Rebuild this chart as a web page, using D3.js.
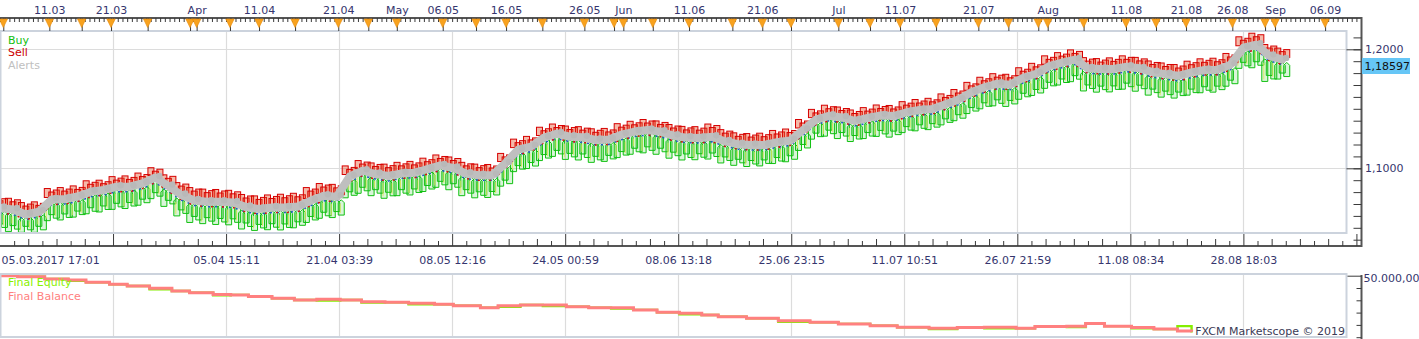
<!DOCTYPE html>
<html><head><meta charset="utf-8">
<script src="https://cdn.jsdelivr.net/npm/d3@7"></script>
<style>
html,body{margin:0;padding:0;background:#fff;overflow:hidden;}
svg{display:block;font-family:"DejaVu Sans",Verdana,sans-serif;font-size:11px;}
</style></head><body>
<svg id="chart" width="1419" height="339"></svg>
<script>
// ---------------- DATA ----------------
const barStep = 11; // bars between consecutive sampled points
const alertPrice = [1.0666,1.0654,1.0612,1.0635,1.0738,1.0742,1.0763,1.0803,1.0818,1.0845,
 1.0845,1.0873,1.0923,1.0851,1.0776,1.0730,1.0719,1.0719,1.0713,1.0675,
 1.0658,1.0671,1.0670,1.0679,1.0729,1.0769,1.0761,1.0931,1.0980,1.0952,
 1.0935,1.0958,1.0963,1.0994,1.1025,1.1003,1.0955,1.0941,1.0942,1.1040,
 1.1157,1.1183,1.1259,1.1292,1.1266,1.1261,1.1238,1.1243,1.1283,1.1309,
 1.1322,1.1307,1.1274,1.1258,1.1255,1.1265,1.1226,1.1203,1.1196,1.1196,
 1.1219,1.1233,1.1322,1.1409,1.1441,1.1427,1.1398,1.1423,1.1445,1.1439,
 1.1471,1.1490,1.1499,1.1539,1.1577,1.1639,1.1681,1.1711,1.1703,1.1761,
 1.1795,1.1858,1.1888,1.1914,1.1840,1.1835,1.1835,1.1854,1.1840,1.1808,
 1.1791,1.1777,1.1806,1.1826,1.1829,1.1871,1.2013,1.2039,1.1945,1.1915];
const sellPrice = [1.0757,1.0748,1.0712,1.0718,1.0830,1.0838,1.0852,1.0895,1.0900,1.0930,
 1.0936,1.0960,1.1005,1.0945,1.0880,1.0838,1.0825,1.0822,1.0815,1.0780,
 1.0768,1.0776,1.0782,1.0790,1.0838,1.0872,1.0865,1.1020,1.1065,1.1045,
 1.1035,1.1050,1.1058,1.1085,1.1112,1.1095,1.1050,1.1035,1.1032,1.1125,
 1.1245,1.1268,1.1345,1.1372,1.1355,1.1350,1.1332,1.1335,1.1375,1.1395,
 1.1410,1.1398,1.1368,1.1352,1.1350,1.1372,1.1325,1.1298,1.1292,1.1295,
 1.1318,1.1330,1.1410,1.1495,1.1530,1.1515,1.1490,1.1510,1.1532,1.1528,
 1.1560,1.1578,1.1588,1.1625,1.1662,1.1722,1.1765,1.1795,1.1790,1.1845,
 1.1882,1.1945,1.1972,1.1995,1.1930,1.1922,1.1928,1.1945,1.1932,1.1902,
 1.1885,1.1872,1.1900,1.1920,1.1925,1.1965,1.2105,1.2135,1.2040,1.2010];
const buyPrice = [1.0482,1.0468,1.0462,1.0462,1.0560,1.0566,1.0590,1.0618,1.0633,1.0655,
 1.0662,1.0690,1.0745,1.0680,1.0600,1.0545,1.0535,1.0528,1.0525,1.0490,
 1.0478,1.0484,1.0482,1.0500,1.0545,1.0580,1.0586,1.0752,1.0790,1.0770,
 1.0748,1.0770,1.0776,1.0805,1.0840,1.0820,1.0770,1.0752,1.0755,1.0850,
 1.0972,1.0998,1.1065,1.1100,1.1075,1.1070,1.1050,1.1058,1.1090,1.1118,
 1.1130,1.1118,1.1085,1.1070,1.1072,1.1078,1.1045,1.1025,1.1015,1.1020,
 1.1040,1.1055,1.1150,1.1245,1.1270,1.1250,1.1225,1.1250,1.1268,1.1262,
 1.1300,1.1315,1.1325,1.1365,1.1400,1.1460,1.1500,1.1525,1.1520,1.1580,
 1.1612,1.1672,1.1700,1.1728,1.1650,1.1640,1.1642,1.1665,1.1648,1.1615,
 1.1598,1.1590,1.1615,1.1635,1.1640,1.1690,1.1840,1.1845,1.1730,1.1750];
const lastPrice = 1.18597;
const priceTicks = [1.1, 1.2];

const balanceBars = [0,15,38,58,73,93,108,127,146,161,181,196,211,231,250,269,289,307,327,347,
 369,385,408,423,442,461,481,500,519,538,558,577,596,610,634,661,688,712,739,762,
 789,813,836,863,879,906,922,938,961,980,1000,1012];
const balanceValues = [50000,49960,49870,49830,49730,49650,49580,49490,49380,49310,
 49240,49220,49150,49080,49010,49040,49010,48940,48920,48880,
 48840,48780,48700,48780,48810,48810,48740,48700,48700,48610,
 48510,48470,48400,48330,48270,48170,48110,48040,47970,47900,
 47860,47890,47900,47860,47940,47950,48060,47950,47890,47830,
 47750,47720];
const equityValues = [50000,49960,49870,49790,49730,49650,49580,49450,49380,49310,
 49200,49220,49150,49080,49010,48990,49010,48910,48920,48840,
 48840,48780,48700,48740,48810,48770,48740,48700,48660,48610,
 48510,48430,48400,48330,48270,48130,48110,48040,47970,47900,
 47830,47890,47860,47860,47940,47910,48060,47950,47860,47830,
 47950,47690];
const equityTicks = [47500,48000,48500,49000,49500,50000];

const topMarkerBars = [2.8,41.9,69.4,94.3,125.4,161.4,167,195.3,220,250.6,287.3,312.8,337,376,404.3,
 429.8,460.6,496.3,521.5,529.4,554.4,585.2,622,647.4,671.8,712,738.9,764.4,795,830.9,856.4,
 881.8,889.8,920.3,956.3,981.8,1007.3,1046.6,1074.4,1082.9,1125.4];
const topLabelBars = [41.9,94.3,167,220,287.3,337,376,429.8,496.3,529.4,585.2,647.4,712,764.4,
 830.9,889.8,956.3,1007.3,1046.6,1082.9,1125.4];
const topLabels = ["11.03","21.03","Apr","11.04","21.04","May","06.05","16.05","26.05","Jun",
 "11.06","21.06","Jul","11.07","21.07","Aug","11.08","21.08","26.08","Sep","06.09"];
const bottomLabelBars = [0,192,288,384,480,576,672,768,864,960,1056];
const bottomLabels = ["05.03.2017 17:01","05.04 15:11","21.04 03:39","08.05 12:16","24.05 00:59",
 "08.06 13:18","25.06 23:15","11.07 10:51","26.07 21:59","11.08 08:34","28.08 18:03"];
const legendMain = [{t:"Buy",c:"#11c011"},{t:"Sell",c:"#cc0000"},{t:"Alerts",c:"#c0c0c0"}];
const legendLow = [{t:"Final Equity",c:"#88f000"},{t:"Final Balance",c:"#ff8080"}];

// ---------------- LAYOUT ----------------
const svg = d3.select('#chart');
const P = {left:0, right:1347, top:31, bottom:233};
const L = {top:274, bottom:337};
const axX = 1361.5;
const topAxisY = 18, botAxisY = 246;
const txtColor = "#35356e";
const FONT = '"DejaVu Sans", Verdana, sans-serif';

const x = d3.scaleLinear().domain([0,1144]).range([0,1347]);
const yP = d3.scaleLinear().domain([1.1,1.2]).range([168.3,49.3]);
const yE = d3.scaleLinear().domain([47500,50000]).range([337.2,275.7]);

svg.append('rect').attr('width',1419).attr('height',339).attr('fill','#fff');

function styleAxis(g){
  g.attr('font-family',FONT).attr('font-size',11);
  g.select('.domain').remove();
  g.selectAll('.tick line').attr('stroke','#3a3a3a');
  g.selectAll('text').attr('fill',txtColor);
}
const px = v => Math.round(x(v)) + 0.5;
const gridBars = d3.range(96, 1144, 96);

// ---------- main panel grid ----------
const gMain = svg.append('g');
gMain.selectAll('line.vg').data(gridBars).join('line')
  .attr('x1',px).attr('x2',px).attr('y1',P.top).attr('y2',P.bottom)
  .attr('stroke','#dcdcdc').attr('stroke-width',1.2);
gMain.selectAll('line.hg').data(priceTicks).join('line')
  .attr('x1',P.left).attr('x2',P.right)
  .attr('y1',d=>Math.round(yP(d))+0.5).attr('y2',d=>Math.round(yP(d))+0.5)
  .attr('stroke','#dcdcdc').attr('stroke-width',1.2);

// clip
svg.append('clipPath').attr('id','clipMain').append('rect')
  .attr('x',P.left).attr('y',P.top+1).attr('width',P.right-P.left-1).attr('height',P.bottom-P.top-2);
svg.append('clipPath').attr('id','clipLow').append('rect')
  .attr('x',0).attr('y',L.top+1).attr('width',P.right-1).attr('height',L.bottom-L.top-2);

const pts = alertPrice.map((a,i)=>({bar:i*barStep, a, s:sellPrice[i], b:buyPrice[i]}));
// marker style variants drawn around each sampled point (pure styling offsets in px)
const variants = [{dx:-4.5, ds:0, db:0},{dx:0, ds:3.5, db:-6},{dx:4.5, ds:1.5, db:-2.5}];
const marks = [];
pts.forEach(p=>variants.forEach(v=>marks.push({...p, ...v})));

const gData = svg.append('g').attr('clip-path','url(#clipMain)');
// buy markers (up arrows)
const bw = 6;
gData.selectAll('path.buy').data(marks).join('path')
  .attr('d',d=>{
    const cx = x(d.bar)+d.dx, top = yP(d.a)+3, bot = yP(d.b)+d.db;
    return `M${cx-bw/2},${bot}L${cx+bw/2},${bot}L${cx+bw/2},${top+3}L${cx},${top}L${cx-bw/2},${top+3}Z`;
  })
  .attr('fill','rgba(25,190,25,0.16)').attr('stroke','#12c012').attr('stroke-width',1);
gData.selectAll('path.buyin').data(marks.filter((d,i)=>i%2===0)).join('path')
  .attr('d',d=>{
    const cx = x(d.bar)+d.dx, top = yP(d.a)+7, bot = yP(d.b)+d.db-2;
    return `M${cx-1},${bot}L${cx-1},${top}`;
  })
  .attr('fill','none').attr('stroke','#dde65a').attr('stroke-width',0.9);
// sell markers (boxes above)
gData.selectAll('rect.sell').data(marks).join('rect')
  .attr('x',d=>x(d.bar)+d.dx-bw/2)
  .attr('y',d=>yP(d.s)+d.ds)
  .attr('width',bw)
  .attr('height',d=>Math.max(3,(yP(d.a)-2)-(yP(d.s)+d.ds)))
  .attr('fill','rgba(228,70,30,0.38)').attr('stroke','#d60000').attr('stroke-width',1);
// small blue / red dots
const offLine = d3.line().x(d=>x(d.bar)).y(d=>yP(d.a)+5);
gData.append('path').datum(pts).attr('d',offLine).attr('fill','none')
  .attr('stroke','#2456c8').attr('stroke-width',1.6).attr('stroke-dasharray','2 5');
gData.append('path').datum(pts).attr('d',offLine).attr('fill','none')
  .attr('stroke','#d81010').attr('stroke-width',1.6).attr('stroke-dasharray','2 9').attr('stroke-dashoffset',4);
// alerts (gray)
const aLine = d3.line().x(d=>x(d.bar)).y(d=>yP(d.a));
gData.append('path').datum(pts).attr('d',aLine).attr('fill','none')
  .attr('stroke','#bfbfbf').attr('stroke-width',8).attr('stroke-linejoin','round').attr('stroke-linecap','round');
gData.selectAll('circle.al').data(pts).join('circle')
  .attr('cx',d=>x(d.bar)+4).attr('cy',d=>yP(d.a)-1.5).attr('r',3.2).attr('fill','#b9b9b9');

// panel border
svg.append('rect').attr('x',0.5).attr('y',P.top).attr('width',P.right-1).attr('height',P.bottom-P.top)
  .attr('fill','none').attr('stroke','#ccd3dd').attr('stroke-width',2);

// legend main
svg.append('g').selectAll('text').data(legendMain).join('text')
  .attr('x',8).attr('y',(d,i)=>43.5+i*12.5).attr('fill',d=>d.c).text(d=>d.t);

// ---------- top axis ----------
svg.append('line').attr('x1',0).attr('x2',axX).attr('y1',topAxisY).attr('y2',topAxisY)
  .attr('stroke','#555').attr('stroke-width',2);
const gTopMinor = svg.append('g').attr('transform',`translate(0,${topAxisY})`)
  .call(d3.axisBottom(x).tickValues(d3.range(0,1153,4)).tickSize(4).tickFormat(''));
styleAxis(gTopMinor);
const gTopMajor = svg.append('g').attr('transform',`translate(0,${topAxisY})`)
  .call(d3.axisBottom(x).tickValues(topMarkerBars).tickSize(13).tickFormat(''));
styleAxis(gTopMajor);
svg.append('g').selectAll('path').data(topMarkerBars).join('path')
  .attr('d',d=>{const cx=x(d);return `M${cx-4.2},${topAxisY+1}L${cx+4.2},${topAxisY+1}L${cx},${topAxisY+9.5}Z`;})
  .attr('fill','#f8a21e').attr('stroke','#e88c0a').attr('stroke-width',0.6);
const gTopLab = svg.append('g').attr('transform',`translate(0,16.5)`)
  .call(d3.axisTop(x).tickValues(topLabelBars).tickSize(0).tickPadding(3).tickFormat((d,i)=>topLabels[i]));
styleAxis(gTopLab);

// ---------- bottom axis ----------
svg.append('line').attr('x1',0).attr('x2',axX).attr('y1',botAxisY).attr('y2',botAxisY)
  .attr('stroke','#555').attr('stroke-width',2);
const bt = d3.range(12,1153,12);
[[bt.filter(v=>v%96!==0 && (v/12)%2===1),5],[bt.filter(v=>v%96!==0 && (v/12)%2===0),7],[bt.filter(v=>v%96===0),12]]
  .forEach(([vals,size])=>{
    const g = svg.append('g').attr('transform',`translate(0,${botAxisY})`)
      .call(d3.axisTop(x).tickValues(vals).tickSize(size).tickFormat(''));
    styleAxis(g);
  });
const gBotLab = svg.append('g').attr('transform',`translate(0,253)`)
  .call(d3.axisBottom(x).tickValues(bottomLabelBars).tickSize(0).tickPadding(3).tickFormat((d,i)=>bottomLabels[i]));
styleAxis(gBotLab);
gBotLab.selectAll('text').filter((d,i)=>i===0).attr('text-anchor','start').attr('x',1);

// ---------- right axis (price) ----------
svg.append('line').attr('x1',axX).attr('x2',axX).attr('y1',topAxisY-1).attr('y2',botAxisY+1)
  .attr('stroke','#555').attr('stroke-width',2);
const gRMinor = svg.append('g').attr('transform',`translate(${axX},0)`)
  .call(d3.axisLeft(yP).tickValues(d3.range(104,122).map(v=>v/100)).tickSize(8).tickFormat(''));
styleAxis(gRMinor);
const gRMajor = svg.append('g').attr('transform',`translate(${axX},0)`)
  .call(d3.axisLeft(yP).tickValues(priceTicks).tickSize(15).tickFormat(''));
styleAxis(gRMajor);
const gRLab = svg.append('g').attr('transform',`translate(${axX},0)`)
  .call(d3.axisRight(yP).tickValues(priceTicks).tickSize(0).tickPadding(3.5)
    .tickFormat(d=>d3.format('.4f')(d).replace('.',',')));
styleAxis(gRLab);
// last price tag
const yl = yP(lastPrice);
svg.append('rect').attr('x',axX+0.5).attr('y',yl-8).attr('width',48).attr('height',16).attr('fill','#66c6f6');
svg.append('text').attr('x',axX+3).attr('y',yl).attr('dy','0.35em').attr('fill','#111')
  .text(d3.format('.5f')(lastPrice).replace('.',','));

// ---------- lower panel ----------
const gLow = svg.append('g');
gLow.selectAll('line').data(gridBars).join('line')
  .attr('x1',px).attr('x2',px).attr('y1',L.top).attr('y2',L.bottom)
  .attr('stroke','#dcdcdc').attr('stroke-width',1.2);
const eqData = balanceBars.map((b,i)=>({bar:b, eq:equityValues[i], bal:balanceValues[i]}));
const gLowData = svg.append('g').attr('clip-path','url(#clipLow)');
gLowData.append('path').datum(eqData)
  .attr('d',d3.line().x(d=>x(d.bar)).y(d=>yE(d.eq)).curve(d3.curveStepAfter))
  .attr('fill','none').attr('stroke','#84ee00').attr('stroke-width',2.4);
gLowData.append('path').datum(eqData)
  .attr('d',d3.line().x(d=>x(d.bar)).y(d=>yE(d.bal)).curve(d3.curveStepAfter))
  .attr('fill','none').attr('stroke','#ff8080').attr('stroke-width',3);
svg.append('rect').attr('x',0.5).attr('y',L.top).attr('width',P.right-1).attr('height',L.bottom-L.top)
  .attr('fill','none').attr('stroke','#ccd3dd').attr('stroke-width',2);
svg.append('g').selectAll('text').data(legendLow).join('text')
  .attr('x',8).attr('y',(d,i)=>285.5+i*14).attr('fill',d=>d.c).text(d=>d.t);
svg.append('text').attr('x',1345).attr('y',335).attr('text-anchor','end')
  .attr('fill','#3a3a55').text('FXCM Marketscope \u00A9 2019');
// lower right axis
svg.append('line').attr('x1',axX).attr('x2',axX).attr('y1',L.top+1).attr('y2',339)
  .attr('stroke','#555').attr('stroke-width',2);
const gLMinor = svg.append('g').attr('transform',`translate(${axX},0)`)
  .call(d3.axisLeft(yE).tickValues(equityTicks.slice(0,-1)).tickSize(5).tickFormat(''));
styleAxis(gLMinor);
const gLMajor = svg.append('g').attr('transform',`translate(${axX},0)`)
  .call(d3.axisLeft(yE).tickValues([50000]).tickSize(14).tickFormat(''));
styleAxis(gLMajor);
const loc = d3.formatLocale({decimal:',',thousands:'.',grouping:[3],currency:['','']});
const gLLab = svg.append('g').attr('transform',`translate(${axX},0)`)
  .call(d3.axisRight(yE).tickValues([50000]).tickSize(0).tickPadding(2).tickFormat(loc.format(',.2f')));
styleAxis(gLLab);
gLLab.selectAll('text').attr('dy','0.55em');
</script>
</body></html>
